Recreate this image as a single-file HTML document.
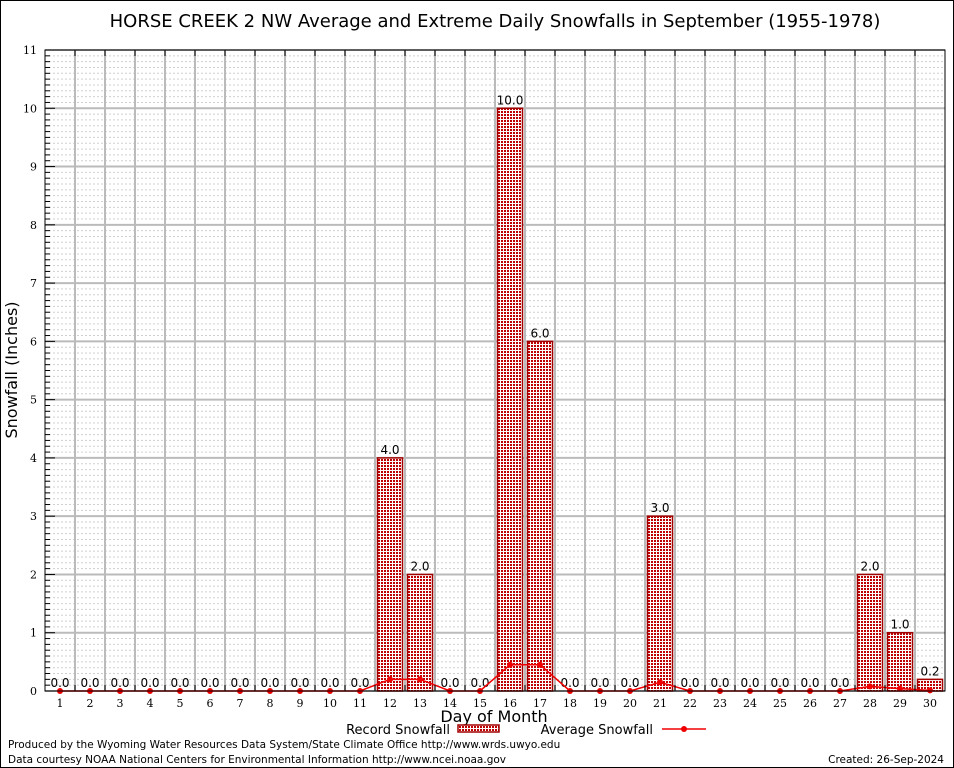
<!DOCTYPE html>
<html><head><meta charset="utf-8">
<style>
body{margin:0;background:#fff;}
svg{display:block;font-family:"DejaVu Sans","Liberation Sans",sans-serif;}
</style></head>
<body>
<svg id="chart" width="954" height="768" viewBox="0 0 954 768">
<defs>
<pattern id="chk" width="3" height="3" patternUnits="userSpaceOnUse">
<rect width="3" height="3" fill="#fff"/>
<rect width="2" height="2" fill="#c00000"/>
</pattern>
</defs>
<rect x="0.5" y="0.5" width="953" height="767" fill="#fff" stroke="#000"/>
<text x="495" y="27" font-size="18" text-anchor="middle">HORSE CREEK 2 NW Average and Extreme Daily Snowfalls in September (1955-1978)</text>
<g id="grid"></g>
<g id="bars"></g>
<g id="avg"></g>
<g id="axes"></g>
<text transform="translate(17,370) rotate(-90)" font-size="16" text-anchor="middle">Snowfall (Inches)</text>
<text x="494" y="722" font-size="16" text-anchor="middle">Day of Month</text>
<g>
<text x="450" y="734" font-size="13" text-anchor="end">Record Snowfall</text>
<rect x="458" y="725" width="41" height="7" fill="url(#chk)" stroke="#a00000" stroke-width="1.5"/>
<text x="653" y="734" font-size="13" text-anchor="end">Average Snowfall</text>
<line x1="662" y1="729" x2="706" y2="729" stroke="#f00000" stroke-width="1.5"/>
<circle cx="684" cy="729" r="3" fill="#f00000"/>
</g>
<text x="8" y="748" font-size="10.5">Produced by the Wyoming Water Resources Data System/State Climate Office http://www.wrds.uwyo.edu</text>
<text x="8" y="763" font-size="10.5">Data courtesy NOAA National Centers for Environmental Information http://www.ncei.noaa.gov</text>
<text x="944" y="763" font-size="10.5" text-anchor="end">Created: 26-Sep-2024</text>
</svg>
<script>
const days=[1,2,3,4,5,6,7,8,9,10,11,12,13,14,15,16,17,18,19,20,21,22,23,24,25,26,27,28,29,30];
const recordSnow=[0,0,0,0,0,0,0,0,0,0,0,4,2,0,0,10,6,0,0,0,3,0,0,0,0,0,0,2,1,0.2];
const avgSnow=[0,0,0,0,0,0,0,0,0,0,0,0.2,0.2,0,0,0.45,0.45,0,0,0,0.15,0,0,0,0,0,0,0.08,0.04,0.01];
const yTicks=[0,1,2,3,4,5,6,7,8,9,10,11];
const NS='http://www.w3.org/2000/svg';
const L=45,R=945,T=50,B=691,yMax=11;
const x=d=>L+(d-0.5)*(R-L)/30;
const y=v=>B-v*(B-T)/yMax;
function mk(tag,attrs,parent,txt){const e=document.createElementNS(NS,tag);for(const k in attrs)e.setAttribute(k,attrs[k]);if(txt!==undefined)e.textContent=txt;parent.appendChild(e);return e;}
const grid=document.getElementById('grid'),bars=document.getElementById('bars'),avg=document.getElementById('avg'),axes=document.getElementById('axes');
for(let i=1;i<yMax*10;i++){if(i%10===0)continue;const g=mk('line',{x1:L,x2:R,y1:y(i/10),y2:y(i/10),stroke:'#cfcfcf','stroke-dasharray':'2,2','stroke-width':1},grid);

}
yTicks.forEach(t=>{const g=mk('line',{x1:L,x2:R,y1:y(t),y2:y(t),stroke:'#bbb','stroke-width':2},grid);


const tx=mk('text',{x:L-8,y:y(t)+4,'font-size':11,'text-anchor':'end','font-family':'DejaVu Serif,serif'},axes,String(t));


for(let m=1;m<10&&t<yMax;m++){mk('line',{x1:L,x2:L+5,y1:y(t+m/10),y2:y(t+m/10),stroke:'#000'},axes);}
mk('line',{x1:L,x2:L+10,y1:y(t),y2:y(t),stroke:'#000'},axes);});
for(let k=1;k<30;k++){const xx=L+k*(R-L)/30;const g=mk('line',{x1:xx,x2:xx,y1:T,y2:B,stroke:'#bbb','stroke-width':2},grid);


mk('line',{x1:xx,x2:xx,y1:T,y2:T+6,stroke:'#000'},axes);mk('line',{x1:xx,x2:xx,y1:B,y2:B-6,stroke:'#000'},axes);}
days.forEach((d,i)=>{const v=recordSnow[i];
if(v>0){const b=mk('rect',{x:x(d)-12.5,y:y(v),width:25,height:B-y(v),fill:'url(#chk)',stroke:'#a00000','stroke-width':1.5},bars);

}
const lb=mk('text',{x:x(d),y:y(v)-4,'font-size':12,'text-anchor':'middle'},bars,v.toFixed(1));


const xl=mk('text',{x:x(d),y:B+16,'font-size':11,'text-anchor':'middle','font-family':'DejaVu Serif,serif'},axes,String(d));

});
const pl=mk('polyline',{points:days.map((d,i)=>x(d)+','+y(avgSnow[i])).join(' '),fill:'none',stroke:'#f00000','stroke-width':1.5},avg);


days.forEach((d,i)=>{const c=mk('circle',{cx:x(d),cy:y(avgSnow[i]),r:3,fill:'#f00000'},avg);

});
const fr=mk('rect',{x:L,y:T,width:R-L,height:B-T,fill:'none',stroke:'#000','stroke-width':1},axes);


</script>
</body></html>
